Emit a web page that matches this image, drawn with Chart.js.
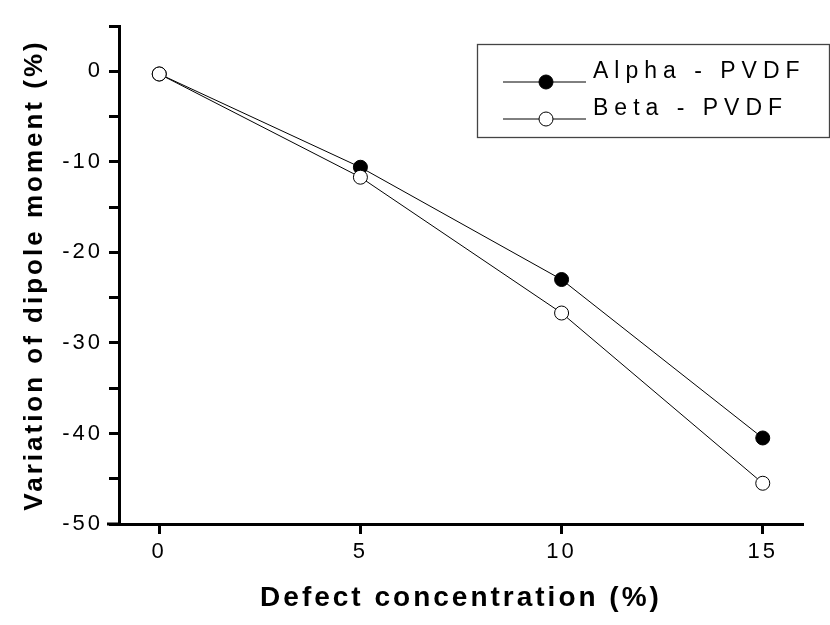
<!DOCTYPE html>
<html lang="en">
<head>
    <meta charset="UTF-8">
    <title>Variation of dipole moment</title>
    <script src="https://cdn.jsdelivr.net/npm/chart.js"></script>
    <style>
        body {
            margin: 0;
            background-color: #FFFFFF;
        }
        .chart-wrapper {
            position: relative;
            width: 830px;
            height: 625px;
        }
    </style>
</head>
<body>
    <div class="chart-wrapper">
        <canvas id="dipoleChart" width="830" height="625"></canvas>
    </div>

    <script>
        // Data
        const defectConc = [0, 5, 10, 15];
        const alphaPVDF = [-0.3, -10.6, -23.0, -40.5];
        const betaPVDF = [-0.3, -11.7, -26.7, -45.5];
        const seriesNames = ['Alpha - PVDF', 'Beta - PVDF'];
        const xTicks = [0, 5, 10, 15];
        const yTicks = [-50, -45, -40, -35, -30, -25, -20, -15, -10, -5, 0, 5];

        const FONT = "'Liberation Sans', Arial, sans-serif";

        function toPoints(xs, ys) {
            return xs.map((x, i) => ({ x: x, y: ys[i] }));
        }

        // the original figure has wide, stretched text; approximate with letter spacing
        const spacingPlugin = {
            id: 'spacing',
            beforeUpdate(chart) { chart.ctx.letterSpacing = '3px'; },
            beforeDraw(chart) { chart.ctx.letterSpacing = '3px'; }
        };

        // x axis line runs a bit past the y axis, like in the origin-style plot
        const axisExtendPlugin = {
            id: 'axisExtend',
            afterDraw(chart) {
                const ctx = chart.ctx;
                const area = chart.chartArea;
                ctx.save();
                ctx.strokeStyle = '#000';
                ctx.lineWidth = 3;
                ctx.beginPath();
                ctx.moveTo(area.left - 12, area.bottom);
                ctx.lineTo(area.left, area.bottom);
                ctx.stroke();
                ctx.restore();
            }
        };

        // boxed legend inside the plot, line sample with marker in the middle
        const boxLegendPlugin = {
            id: 'boxLegend',
            afterDraw(chart) {
                const ctx = chart.ctx;
                ctx.save();
                ctx.strokeStyle = '#444';
                ctx.lineWidth = 1.3;
                ctx.strokeRect(477.5, 44.5, 352, 93);

                const rows = [82, 119];
                chart.data.datasets.forEach((ds, i) => {
                    const y = rows[i];
                    ctx.strokeStyle = '#000';
                    ctx.lineWidth = 1;
                    ctx.beginPath();
                    ctx.moveTo(503, y);
                    ctx.lineTo(586, y);
                    ctx.stroke();

                    ctx.beginPath();
                    ctx.arc(546, y, 7, 0, Math.PI * 2);
                    ctx.fillStyle = ds.pointBackgroundColor;
                    ctx.fill();
                    ctx.lineWidth = 1;
                    ctx.strokeStyle = '#000';
                    ctx.stroke();

                    ctx.letterSpacing = '6px';
                    ctx.font = '23px ' + FONT;
                    ctx.fillStyle = '#000';
                    ctx.textAlign = 'left';
                    ctx.textBaseline = 'alphabetic';
                    ctx.fillText(ds.label, 593, y - 4);
                });
                ctx.restore();
            }
        };

        const ctxDipole = document.getElementById('dipoleChart').getContext('2d');

        new Chart(ctxDipole, {
            type: 'scatter',
            data: {
                datasets: [
                    {
                        label: seriesNames[0],
                        data: toPoints(defectConc, alphaPVDF),
                        showLine: true,
                        borderColor: '#000',
                        borderWidth: 1,
                        pointRadius: 7,
                        pointBackgroundColor: '#000',
                        pointBorderColor: '#000',
                        pointBorderWidth: 1,
                        order: 1
                    },
                    {
                        label: seriesNames[1],
                        data: toPoints(defectConc, betaPVDF),
                        showLine: true,
                        borderColor: '#000',
                        borderWidth: 1,
                        pointRadius: 7,
                        pointBackgroundColor: '#fff',
                        pointBorderColor: '#000',
                        pointBorderWidth: 1,
                        order: 0
                    }
                ]
            },
            options: {
                responsive: false,
                animation: false,
                layout: {
                    padding: { top: 26, right: 27, left: 0, bottom: 0 }
                },
                scales: {
                    x: {
                        type: 'linear',
                        min: -1,
                        max: 16,
                        afterBuildTicks: scale => {
                            scale.ticks = xTicks.map(v => ({ value: v }));
                        },
                        afterFit: scale => { scale.height = 101; },
                        grid: {
                            display: true,
                            drawOnChartArea: false,
                            drawTicks: true,
                            tickLength: 10,
                            tickWidth: 3,
                            tickColor: '#000'
                        },
                        border: { display: true, width: 3, color: '#000' },
                        ticks: {
                            color: '#000',
                            padding: 5,
                            maxRotation: 0,
                            font: { family: FONT, size: 22 }
                        },
                        title: {
                            display: true,
                            text: 'Defect concentration (%)',
                            color: '#000',
                            padding: { top: 0, bottom: 10 },
                            font: { family: FONT, size: 28, weight: 'bold' }
                        }
                    },
                    y: {
                        type: 'linear',
                        min: -50,
                        max: 5,
                        afterBuildTicks: scale => {
                            scale.ticks = yTicks.map(v => ({ value: v }));
                        },
                        afterFit: scale => { scale.width = 119; },
                        grid: {
                            display: true,
                            drawOnChartArea: false,
                            drawTicks: true,
                            tickLength: 10,
                            tickWidth: 3,
                            tickColor: '#000'
                        },
                        border: { display: true, width: 3, color: '#000' },
                        ticks: {
                            color: '#000',
                            padding: 6,
                            font: { family: FONT, size: 22 },
                            callback: v => (v % 10 === 0 ? v : '')
                        },
                        title: {
                            display: true,
                            text: 'Variation of dipole moment (%)',
                            color: '#000',
                            padding: { top: 19, bottom: 0 },
                            font: { family: FONT, size: 26, weight: 'bold' }
                        }
                    }
                },
                plugins: {
                    legend: { display: false },
                    tooltip: { enabled: false }
                }
            },
            plugins: [spacingPlugin, axisExtendPlugin, boxLegendPlugin]
        });
    </script>
</body>
</html>
